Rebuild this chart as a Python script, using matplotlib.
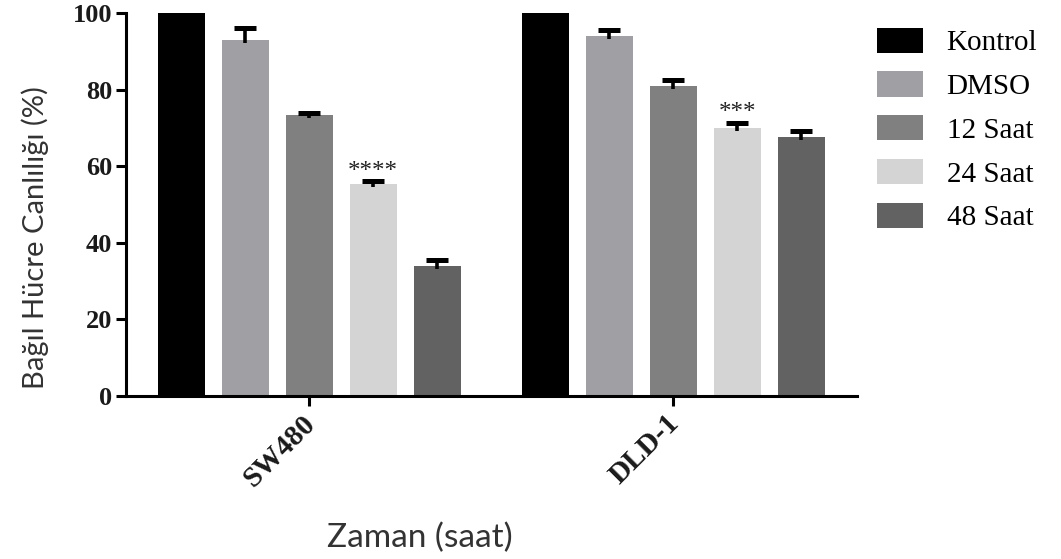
import matplotlib
matplotlib.use("Agg")
import matplotlib.pyplot as plt
import matplotlib.transforms as mtransforms
import numpy as np
from matplotlib.patches import Patch

groups = ["SW480", "DLD-1"]
series = ["Kontrol", "DMSO", "12 Saat", "24 Saat", "48 Saat"]
values = {
    "Kontrol": [100.0, 100.0],
    "DMSO": [93.0, 94.0],
    "12 Saat": [73.4, 80.9],
    "24 Saat": [55.3, 70.0],
    "48 Saat": [34.0, 67.6],
}
errors = {
    "Kontrol": [0.0, 0.0],
    "DMSO": [3.0, 1.5],
    "12 Saat": [0.5, 1.5],
    "24 Saat": [0.8, 1.3],
    "48 Saat": [1.5, 1.5],
}
colors = ["#000000", "#a0a0a4", "#808080", "#d4d4d4", "#626262"]
stars = {("24 Saat", 0): "****", ("24 Saat", 1): "***"}
yticks = [0, 20, 40, 60, 80, 100]

serif = ["Liberation Serif", "DejaVu Serif"]
sans = ["Lato", "DejaVu Sans"]

fig = plt.figure(figsize=(10.61, 5.59), dpi=100)
ax = fig.add_axes([0.1188, 0.2916, 0.689, 0.685])

x = np.arange(len(groups))
step = 0.176
width = 0.129
lw = 2.2
for i, s in enumerate(series):
    pos = x + (i - 2) * step
    ax.bar(pos, values[s], width=width, color=colors[i], zorder=2)
    e = np.array(errors[s])
    v = np.array(values[s])
    if e.sum() > 0:
        # stem from slightly inside the bar up to the upper cap only
        ax.errorbar(pos, v + e, yerr=[e + 0.8, np.zeros_like(e)], fmt="none",
                    ecolor="black", elinewidth=2.6, capsize=0, zorder=3)
        ax.plot(pos, v + e, linestyle="none", marker="_", markersize=16,
                markeredgewidth=3.6, color="black", zorder=3)
    for g in range(len(groups)):
        if (s, g) in stars:
            ax.annotate(stars[(s, g)], (pos[g], values[s][g] + errors[s][g]),
                        xytext=(0, -1), textcoords="offset points",
                        ha="center", va="bottom", fontsize=18,
                        family=serif, color="#222222")

ax.set_xlim(-0.503, 1.505)
ax.set_ylim(0, 100)
for sp in ["top", "right"]:
    ax.spines[sp].set_visible(False)
for sp in ["left", "bottom"]:
    ax.spines[sp].set_linewidth(lw)
ax.tick_params(axis="both", width=lw, length=7, pad=3)

ax.set_yticks(yticks)
ax.set_yticklabels([str(t) for t in yticks], family=serif, fontweight="bold",
                   fontsize=19, color="#1a1a1a")
ax.set_xticks(x)
ax.set_xticklabels(groups, rotation=45, ha="right", va="top",
                   rotation_mode="anchor", family=serif, fontweight="bold",
                   fontsize=21, color="#1a1a1a")
shift = mtransforms.ScaledTranslation(-8 / 100, 0, fig.dpi_scale_trans)
for lab in ax.get_xticklabels():
    lab.set_transform(lab.get_transform() + shift)

ax.set_ylabel("Bağıl Hücre Canlılığı (%)", family=sans, fontsize=21,
              color="#333333")
ax.yaxis.set_label_coords(-0.106, 0.415)
ax.set_xlabel("Zaman (saat)", family=sans, fontsize=24, color="#333333")
ax.xaxis.set_label_coords((420 - 126) / 731, -0.33)

handles = [Patch(facecolor=c, edgecolor="none") for c in colors]
leg = fig.legend(handles, series, loc="upper left",
                 bbox_to_anchor=(865 / 1061, 1 - 16 / 559),
                 frameon=False, prop={"family": serif, "size": 21},
                 handlelength=1.6, handleheight=0.95, handletextpad=0.8,
                 labelspacing=0.52, borderaxespad=0)

fig.savefig("out.png", dpi=100)
